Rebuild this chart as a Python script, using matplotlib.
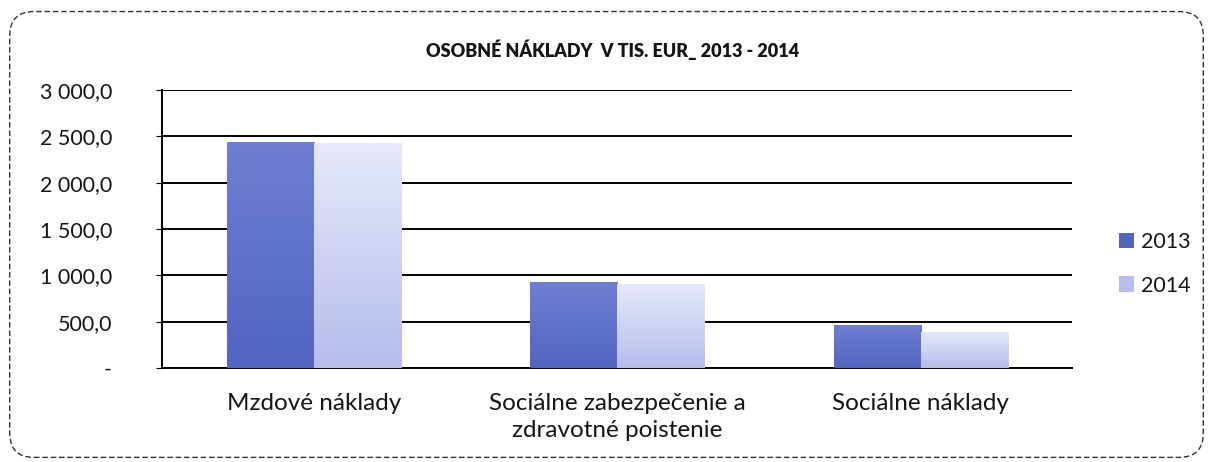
import numpy as np
import matplotlib
matplotlib.use("Agg")
from matplotlib import pyplot as plt
from matplotlib.patches import FancyBboxPatch
from matplotlib.colors import LinearSegmentedColormap
from matplotlib.ticker import FuncFormatter

# data (tis. EUR)
kategorie = ["Mzdové náklady", "Sociálne zabezpečenie a\nzdravotné poistenie", "Sociálne náklady"]
roky = ["2013", "2014"]
hodnoty_2013 = [2440.0, 930.0, 465.0]
hodnoty_2014 = [2425.0, 910.0, 390.0]

plt.rcParams['font.family'] = ['Lato', 'DejaVu Sans']

fig = plt.figure(figsize=(12.13, 4.62), dpi=100)
ax = fig.add_axes([0.1336, 0.2035, 0.7504, 0.6017])

x = np.arange(len(kategorie))
sirka = 0.287

farby = [("#5365c2", "#6e7fd2"), ("#b6bdec", "#e6e9fa")]

b1 = ax.bar(x - sirka / 2, hodnoty_2013, sirka, color=farby[0][0], label=roky[0], zorder=3)
b2 = ax.bar(x + sirka / 2, hodnoty_2014, sirka, color=farby[1][0], label=roky[1], zorder=3)

# gradient vo vnutri stlpcov
for bars, (c_dole, c_hore) in zip([b1, b2], farby):
    cmap = LinearSegmentedColormap.from_list("g", [c_dole, c_hore])
    grad = np.linspace(0, 1, 100).reshape(-1, 1)
    for p in bars:
        bx, by = p.get_x(), p.get_y()
        bw, bh = p.get_width(), p.get_height()
        im = ax.imshow(grad, cmap=cmap, origin="lower", aspect="auto",
                       extent=(bx, bx + bw, by, by + bh), zorder=3.5)
        im.set_clip_path(p)
ax.set_ylim(0, 3000)
ax.set_xlim(-0.5, len(kategorie) - 0.5)

ax.set_yticks(np.arange(0, 3001, 500))
def fmt(v, pos):
    if v == 0:
        return "-"
    return "{:,.1f}".format(v).replace(",", " ").replace(".", ",")
ax.yaxis.set_major_formatter(FuncFormatter(fmt))
ax.grid(axis="y", color="black", linewidth=1.4, zorder=0)
ax.set_xticks(x)
ax.set_xticklabels(kategorie, fontsize=17.5, color="#151515", linespacing=1.35)
ax.tick_params(axis="x", length=0, pad=18)
ax.tick_params(axis="y", length=4, pad=32, labelsize=15.5, labelcolor="#151515")
for t in ax.get_yticklabels():
    t.set_horizontalalignment("right")

for s in ["top", "right"]:
    ax.spines[s].set_visible(False)
ax.spines["left"].set_linewidth(1.4)
ax.spines["bottom"].set_linewidth(1.4)

leg = ax.legend(loc="center left", bbox_to_anchor=(1.03, 0.375), frameon=False,
                fontsize=15.5, handlelength=0.72, handleheight=0.72, handletextpad=0.3,
                labelspacing=1.1)
for t in leg.get_texts():
    t.set_color("#151515")

fig.text(0.505, 0.893, "OSOBNÉ NÁKLADY  V TIS. EUR_ 2013 - 2014", ha="center", va="center",
         fontsize=13, fontweight="heavy", color="#151515")

ram = FancyBboxPatch((0.008, 0.01), 0.984, 0.965, boxstyle="round,pad=0,rounding_size=0.02",
                     transform=fig.transFigure, fill=False, edgecolor="#333333",
                     linewidth=1.0, linestyle=(0, (4, 2)), mutation_aspect=1213 / 462)
fig.patches.append(ram)

fig.savefig("out.png", dpi=100)
